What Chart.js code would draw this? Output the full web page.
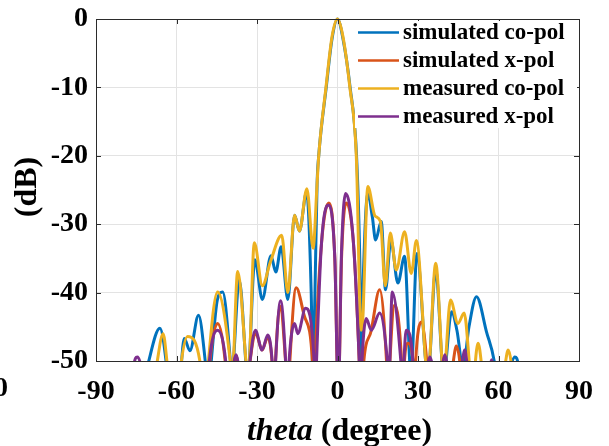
<!DOCTYPE html>
<html><head><meta charset="utf-8">
<script src="https://cdn.jsdelivr.net/npm/chart.js@4.4.1/dist/chart.umd.min.js"></script>
<style>html,body{margin:0;padding:0;background:#fff;overflow:hidden}</style>
</head><body>
<canvas id="c" width="609" height="446"></canvas>
<script>
// ---- data (theta in degrees, level in dB) ----
const seriesNames = ['simulated co-pol', 'simulated x-pol', 'measured co-pol', 'measured x-pol'];
const seriesColors = ['#0072BD', '#D95319', '#EDB120', '#7E2F8E'];
const thetaTicks = [-90, -60, -30, 0, 30, 60, 90];
const dbTicks = [-50, -40, -30, -20, -10, 0];

const simCoTheta = [-90,-80,-71,-66.2,-63.6,-60.5,-58.3,-57.1,-55,-51.8,-49,-48.2,-47.3,-44.8,-42.8,-39.7,-39.3,-38.9,-36.6,-34,-33.5,-33,-30.8,-28,-24.8,-23,-21,-18.5,-16,-14.2,-11.5,-9.8,-9.2,-8.4,-7.6,-7.0,-4.2,-2,0,2,4.7,7.1,8.3,8.9,9.6,11.3,13,14.2,16.3,17.9,19.9,22.5,25,27.4,29.6,33.7,36.6,39.6,42.5,44.5,46.8,49,51.8,55.5,58.8,61,64.5,66.1,67.5,70,90];
const simCoDb    = [-65,-65,-51,-45.2,-51,-65,-51,-46.7,-48.5,-43.3,-51,-54,-51,-41.1,-39.9,-51,-53,-51,-38.2,-51,-53,-51,-35.2,-41,-34.6,-37,-33.3,-41,-28.7,-31,-25.3,-40,-52,-40,-24,-20,-10,-2.8,0,-2.8,-10,-20,-35,-51,-38,-25.5,-29,-32.3,-29.6,-39.6,-32.3,-38.6,-34.7,-52,-34.3,-52,-36.7,-52,-42.8,-45.5,-51,-45,-40.6,-45.7,-51,-60,-51,-49.4,-51,-65,-65];

const simXTheta = [-90,-50,-47.8,-44.7,-41.6,-40,-38.5,-37.8,-37,-35,-32.9,-30.4,-28.1,-26,-24.2,-23.6,-23.2,-21.4,-19.2,-18.5,-17.9,-15.4,-12.3,-9.2,-8.8,-8.4,-6,-3.2,-1,0.3,1.5,3.2,6,8.2,8.8,9.6,12.6,15.7,18.4,18.9,19.4,21.3,24,24.4,24.8,26.3,28.3,28.6,29,31.3,33.5,36,42.8,44.3,45.8,48,90];
const simXDb    = [-65,-65,-51,-44.5,-51,-60,-51,-49.2,-51,-60,-51,-46,-48.4,-46.5,-51,-56,-51,-42,-51,-56,-51,-39.3,-43.5,-51,-58,-51,-33,-26.9,-35,-55,-35,-26.9,-33,-51,-58,-51,-45.5,-39.6,-51,-56,-51,-41.8,-51,-56,-51,-47.4,-51,-56,-51,-44.3,-51,-65,-51,-47.8,-51,-65,-65];

const measCoTheta = [-90,-75,-67.6,-65,-63.3,-60.5,-58.5,-55.9,-50.9,-49.5,-48.3,-44.7,-39.7,-39.3,-38.9,-37.2,-33.9,-33.4,-32.9,-31,-28,-25,-20.8,-18.5,-16,-14.2,-11.4,-9.1,-7.6,-7.0,-4.3,-2,0,2,4.6,7.0,8.8,9.4,11.3,14,16,17.8,19.7,21.9,25,27.5,29.4,33.7,36.6,39.6,42.1,44.9,47.2,49.3,50.5,51.2,52.4,53.8,57,62.3,63.6,64.9,67,90];
const measCoDb    = [-65,-65,-51,-46,-51,-60,-51,-46.4,-51,-58,-51,-39.9,-51,-53,-51,-36.9,-51,-53,-51,-32.7,-39,-35.5,-31.6,-40,-28.7,-31,-24.8,-33.5,-24,-20,-10,-2.5,0,-2.5,-10,-20,-45.5,-44,-24.5,-28.8,-29.6,-39,-31.3,-36.7,-31.1,-37.2,-32.4,-52,-35.7,-52,-41.1,-44.5,-43,-51,-56,-51,-47.4,-51,-65,-51,-48.4,-51,-65,-65];

const measXTheta = [-90,-78,-76,-74.6,-73.2,-70,-50,-48,-44.7,-41.4,-40,-38.8,-37.8,-36.8,-35,-32.9,-30.6,-28.1,-26,-24.2,-23.7,-23.2,-21.2,-19.2,-18.7,-18.2,-16,-14.8,-11.9,-8.6,-8.3,-7.9,-6,-3.5,-1,0.3,1.5,3.0,5.8,8.2,8.6,9.0,10.7,12.6,15.7,18.8,19.1,20.4,23.8,24.1,25.6,28.3,29,33.4,34.4,35.4,37,39,40,41,43,46.3,47.4,48.5,52,56.8,57.4,58,60,90];
const measXDb    = [-65,-65,-51,-49.4,-51,-65,-65,-51,-45.5,-51,-60,-51,-49.1,-51,-60,-51,-45.5,-48.4,-46.2,-51,-56,-51,-41.2,-51,-56,-51,-44.5,-46,-42.3,-51,-56,-51,-33,-27.2,-35,-55,-34,-25.5,-32,-51,-56,-51,-43.8,-45.5,-43,-51,-53,-39.9,-51,-53,-45.5,-51,-60,-51,-49.4,-51,-60,-51,-49.1,-51,-60,-51,-48.4,-51,-60,-51,-49.8,-51,-65,-65];

const seriesTheta = [simCoTheta, simXTheta, measCoTheta, measXTheta];
const seriesDb = [simCoDb, simXDb, measCoDb, measXDb];

const FONT = "'Liberation Serif', 'Times New Roman', serif";

const datasets = seriesNames.map((name, i) => ({
  label: name,
  data: seriesTheta[i].map((t, k) => ({x: t, y: seriesDb[i][k]})),
  borderColor: seriesColors[i],
  backgroundColor: seriesColors[i],
  borderWidth: 3,
  pointRadius: 0,
  fill: false,
  cubicInterpolationMode: 'monotone',
  clip: {left: 0, right: 0, top: 2, bottom: 0},
  order: 4 - i
}));

const decor = {
  id: 'decor',
  afterDatasetsDraw(chart) {
    const ctx = chart.ctx, a = chart.chartArea;
    const xs = chart.scales.x, ys = chart.scales.y;
    ctx.save();
    // box
    ctx.strokeStyle = '#2b2b2b';
    ctx.lineWidth = 1;
    ctx.strokeRect(Math.round(a.left) + 0.5, Math.round(a.top) + 0.5, Math.round(a.right - a.left), Math.round(a.bottom - a.top));
    // inward ticks
    const tl = 5;
    ctx.beginPath();
    thetaTicks.forEach(t => {
      const px = Math.round(xs.getPixelForValue(t)) + 0.5;
      ctx.moveTo(px, a.bottom); ctx.lineTo(px, a.bottom - tl);
      ctx.moveTo(px, a.top); ctx.lineTo(px, a.top + tl);
    });
    dbTicks.forEach(v => {
      const py = Math.round(ys.getPixelForValue(v)) + 0.5;
      ctx.moveTo(a.left, py); ctx.lineTo(a.left + tl, py);
      ctx.moveTo(a.right, py); ctx.lineTo(a.right - tl, py);
    });
    ctx.stroke();
    // legend
    const lx = 355, ly = 21, lw = 222, lh = 107;
    ctx.fillStyle = '#ffffff';
    ctx.fillRect(lx, ly, lw, lh);
    ctx.font = 'bold 23px ' + FONT;
    ctx.textBaseline = 'middle';
    ctx.textAlign = 'left';
    seriesNames.forEach((n, i) => {
      const y = 32.5 + i * 28;
      ctx.strokeStyle = seriesColors[i];
      ctx.lineWidth = 2.6;
      ctx.beginPath(); ctx.moveTo(358, y); ctx.lineTo(399, y); ctx.stroke();
      ctx.fillStyle = '#000';
      ctx.fillText(n, 403, y + 1);
    });
    // axis titles
    ctx.fillStyle = '#000';
    ctx.textBaseline = 'middle';
    const cx = (a.left + a.right) / 2;
    ctx.font = 'italic bold 32px ' + FONT;
    const w1 = ctx.measureText('theta').width;
    ctx.font = 'bold 32px ' + FONT;
    const w2 = ctx.measureText(' (degree)').width;
    const x0 = cx - (w1 + w2) / 2 + 2;
    ctx.font = 'italic bold 32px ' + FONT;
    ctx.fillText('theta', x0, 432);
    ctx.font = 'bold 32px ' + FONT;
    ctx.fillText(' (degree)', x0 + w1, 432);
    ctx.save();
    ctx.translate(28, (a.top + a.bottom) / 2 - 3);
    ctx.rotate(-Math.PI / 2);
    ctx.textAlign = 'center';
    ctx.fillText('(dB)', 0, 0);
    ctx.restore();
    // cropped fragment of neighbouring figure's tick label
    ctx.font = 'bold 28px ' + FONT;
    ctx.textAlign = 'center';
    ctx.fillText('0', 1, 389);
    ctx.restore();
  }
};

new Chart(document.getElementById('c'), {
  type: 'line',
  data: {datasets},
  options: {
    responsive: false,
    animation: false,
    devicePixelRatio: 1,
    layout: {padding: {left: 0, right: 30, top: 19, bottom: 0}},
    plugins: {legend: {display: false}, tooltip: {enabled: false}},
    scales: {
      x: {
        type: 'linear', min: -90, max: 90,
        afterFit(s) { s.height = 85; s.paddingLeft = 0; s.paddingRight = 0; },
        afterBuildTicks(s) { s.ticks = thetaTicks.map(v => ({value: v})); },
        grid: {color: '#e3e3e3', drawTicks: false},
        border: {display: false},
        ticks: {padding: 14, color: '#000', font: {family: FONT, size: 28, weight: 'bold'}, maxRotation: 0}
      },
      y: {
        type: 'linear', min: -50, max: 0,
        afterFit(s) { s.width = 96; s.paddingTop = 0; s.paddingBottom = 0; },
        afterBuildTicks(s) { s.ticks = dbTicks.map(v => ({value: v})); },
        grid: {color: '#e3e3e3', drawTicks: false},
        border: {display: false},
        ticks: {padding: 8, color: '#000', font: {family: FONT, size: 28, weight: 'bold'}}
      }
    }
  },
  plugins: [decor]
});
</script>
</body></html>
